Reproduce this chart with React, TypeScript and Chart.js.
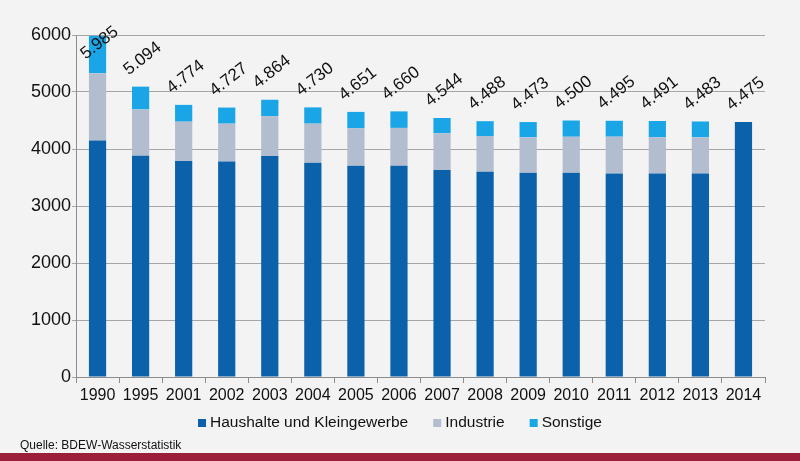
import { useEffect, useRef } from 'react';
import { Chart, registerables } from 'chart.js';

Chart.register(...registerables);

// Wasserabgabe nach Abnehmergruppen (Mio. m³)
const YEARS = ['1990', '1995', '2001', '2002', '2003', '2004', '2005', '2006', '2007', '2008', '2009', '2010', '2011', '2012', '2013', '2014'];
const HAUSHALTE = [4150, 3880, 3790, 3780, 3877, 3760, 3708, 3705, 3630, 3600, 3585, 3585, 3572, 3570, 3570, 4475];
const INDUSTRIE = [1180, 815, 690, 665, 700, 685, 655, 665, 645, 628, 620, 630, 644, 635, 635, 0];
const SONSTIGE = [655, 399, 294, 282, 287, 285, 288, 290, 269, 260, 268, 285, 279, 286, 278, 0];
const Y_TICKS = [0, 1000, 2000, 3000, 4000, 5000, 6000];

const FONT = '"Liberation Sans", Arial, Helvetica, sans-serif';

// Tausenderpunkt wie im Original
const fmt = (v: number) => String(v).replace(/\B(?=(\d{3})+(?!\d))/g, '.');

const totalLabels = {
  id: 'totalLabels',
  afterDatasetsDraw(chart: Chart) {
    const { ctx, chartArea } = chart;
    const x = chart.scales.x;
    const y = chart.scales.y;
    ctx.save();
    ctx.font = `17px ${FONT}`;
    ctx.fillStyle = '#111';
    ctx.textAlign = 'center';
    ctx.textBaseline = 'middle';
    YEARS.forEach((_, i) => {
      const total = HAUSHALTE[i] + INDUSTRIE[i] + SONSTIGE[i];
      const px = x.getPixelForValue(i) + 2;
      const py = Math.max(y.getPixelForValue(total) - 28, chartArea.top + 8);
      ctx.save();
      ctx.translate(px, py);
      ctx.rotate((-38 * Math.PI) / 180);
      ctx.fillText(fmt(total), 0, 0);
      ctx.restore();
    });
    ctx.restore();
  },
};

// Legende wie im Excel-Original: kleine Quadrate, enger Abstand zum Text
const squareLegend = {
  id: 'squareLegend',
  afterDraw(chart: Chart) {
    const { ctx, width } = chart;
    const box = 8;
    const gapText = 4;
    const gapItem = 25;
    const cy = 423;
    ctx.save();
    ctx.font = `15.5px ${FONT}`;
    ctx.textBaseline = 'middle';
    const items = chart.data.datasets.map((ds) => ({
      text: String(ds.label),
      color: String(ds.backgroundColor),
      w: ctx.measureText(String(ds.label)).width,
    }));
    const total = items.reduce((s, it) => s + box + gapText + it.w, 0) + gapItem * (items.length - 1);
    let cx = (width - total) / 2;
    items.forEach((it) => {
      ctx.fillStyle = it.color;
      ctx.fillRect(cx, cy - box / 2, box, box);
      ctx.fillStyle = '#111';
      ctx.fillText(it.text, cx + box + gapText, cy);
      cx += box + gapText + it.w + gapItem;
    });
    ctx.restore();
  },
};

export default function App() {
  const canvasRef = useRef<HTMLCanvasElement>(null);
  const chartRef = useRef<Chart | null>(null);

  useEffect(() => {
    document.body.style.margin = '0';
    if (!canvasRef.current) return;
    chartRef.current?.destroy();

    chartRef.current = new Chart(canvasRef.current, {
      type: 'bar',
      data: {
        labels: YEARS,
        datasets: [
          { label: 'Haushalte und Kleingewerbe', data: HAUSHALTE, backgroundColor: '#0b62ab' },
          { label: 'Industrie', data: INDUSTRIE, backgroundColor: '#b2bdcf' },
          { label: 'Sonstige', data: SONSTIGE, backgroundColor: '#1aa6e6' },
        ],
      },
      options: {
        responsive: false,
        animation: false,
        layout: { padding: { left: 0, right: 35, top: 35, bottom: 57 } },
        datasets: { bar: { categoryPercentage: 1, barPercentage: 0.4, borderWidth: 0 } },
        plugins: {
          tooltip: { enabled: false },
          legend: { display: false },
        },
        scales: {
          x: {
            stacked: true,
            afterFit: (s) => {
              s.height = 27;
            },
            grid: { offset: true, drawOnChartArea: false, drawTicks: true, tickLength: 6, color: '#8c8c8c' },
            border: { color: '#8c8c8c' },
            ticks: { color: '#111', padding: 3, font: { family: FONT, size: 16 }, maxRotation: 0, autoSkip: false },
          },
          y: {
            stacked: true,
            min: 0,
            max: 6000,
            afterFit: (s) => {
              s.width = 76;
            },
            afterBuildTicks: (s) => {
              s.ticks = Y_TICKS.map((v) => ({ value: v }));
            },
            grid: { color: '#a6a6a6', tickLength: 4 },
            border: { color: '#8c8c8c' },
            ticks: { color: '#111', padding: 1, font: { family: FONT, size: 18 }, callback: (v) => String(v) },
          },
        },
      },
      plugins: [totalLabels, squareLegend],
    });

    return () => {
      chartRef.current?.destroy();
      chartRef.current = null;
    };
  }, []);

  return (
    <div style={{ position: 'relative', width: 800, height: 461, background: '#f3f3f3', overflow: 'hidden' }}>
      <canvas ref={canvasRef} width={800} height={461} style={{ position: 'absolute', left: 0, top: 0 }} />
      <div style={{ position: 'absolute', left: 20, top: 438, fontFamily: FONT, fontSize: 12, color: '#111' }}>
        Quelle: BDEW-Wasserstatistik
      </div>
      <div style={{ position: 'absolute', left: 0, top: 453, width: 800, height: 8, background: '#9b1e3b' }} />
    </div>
  );
}
